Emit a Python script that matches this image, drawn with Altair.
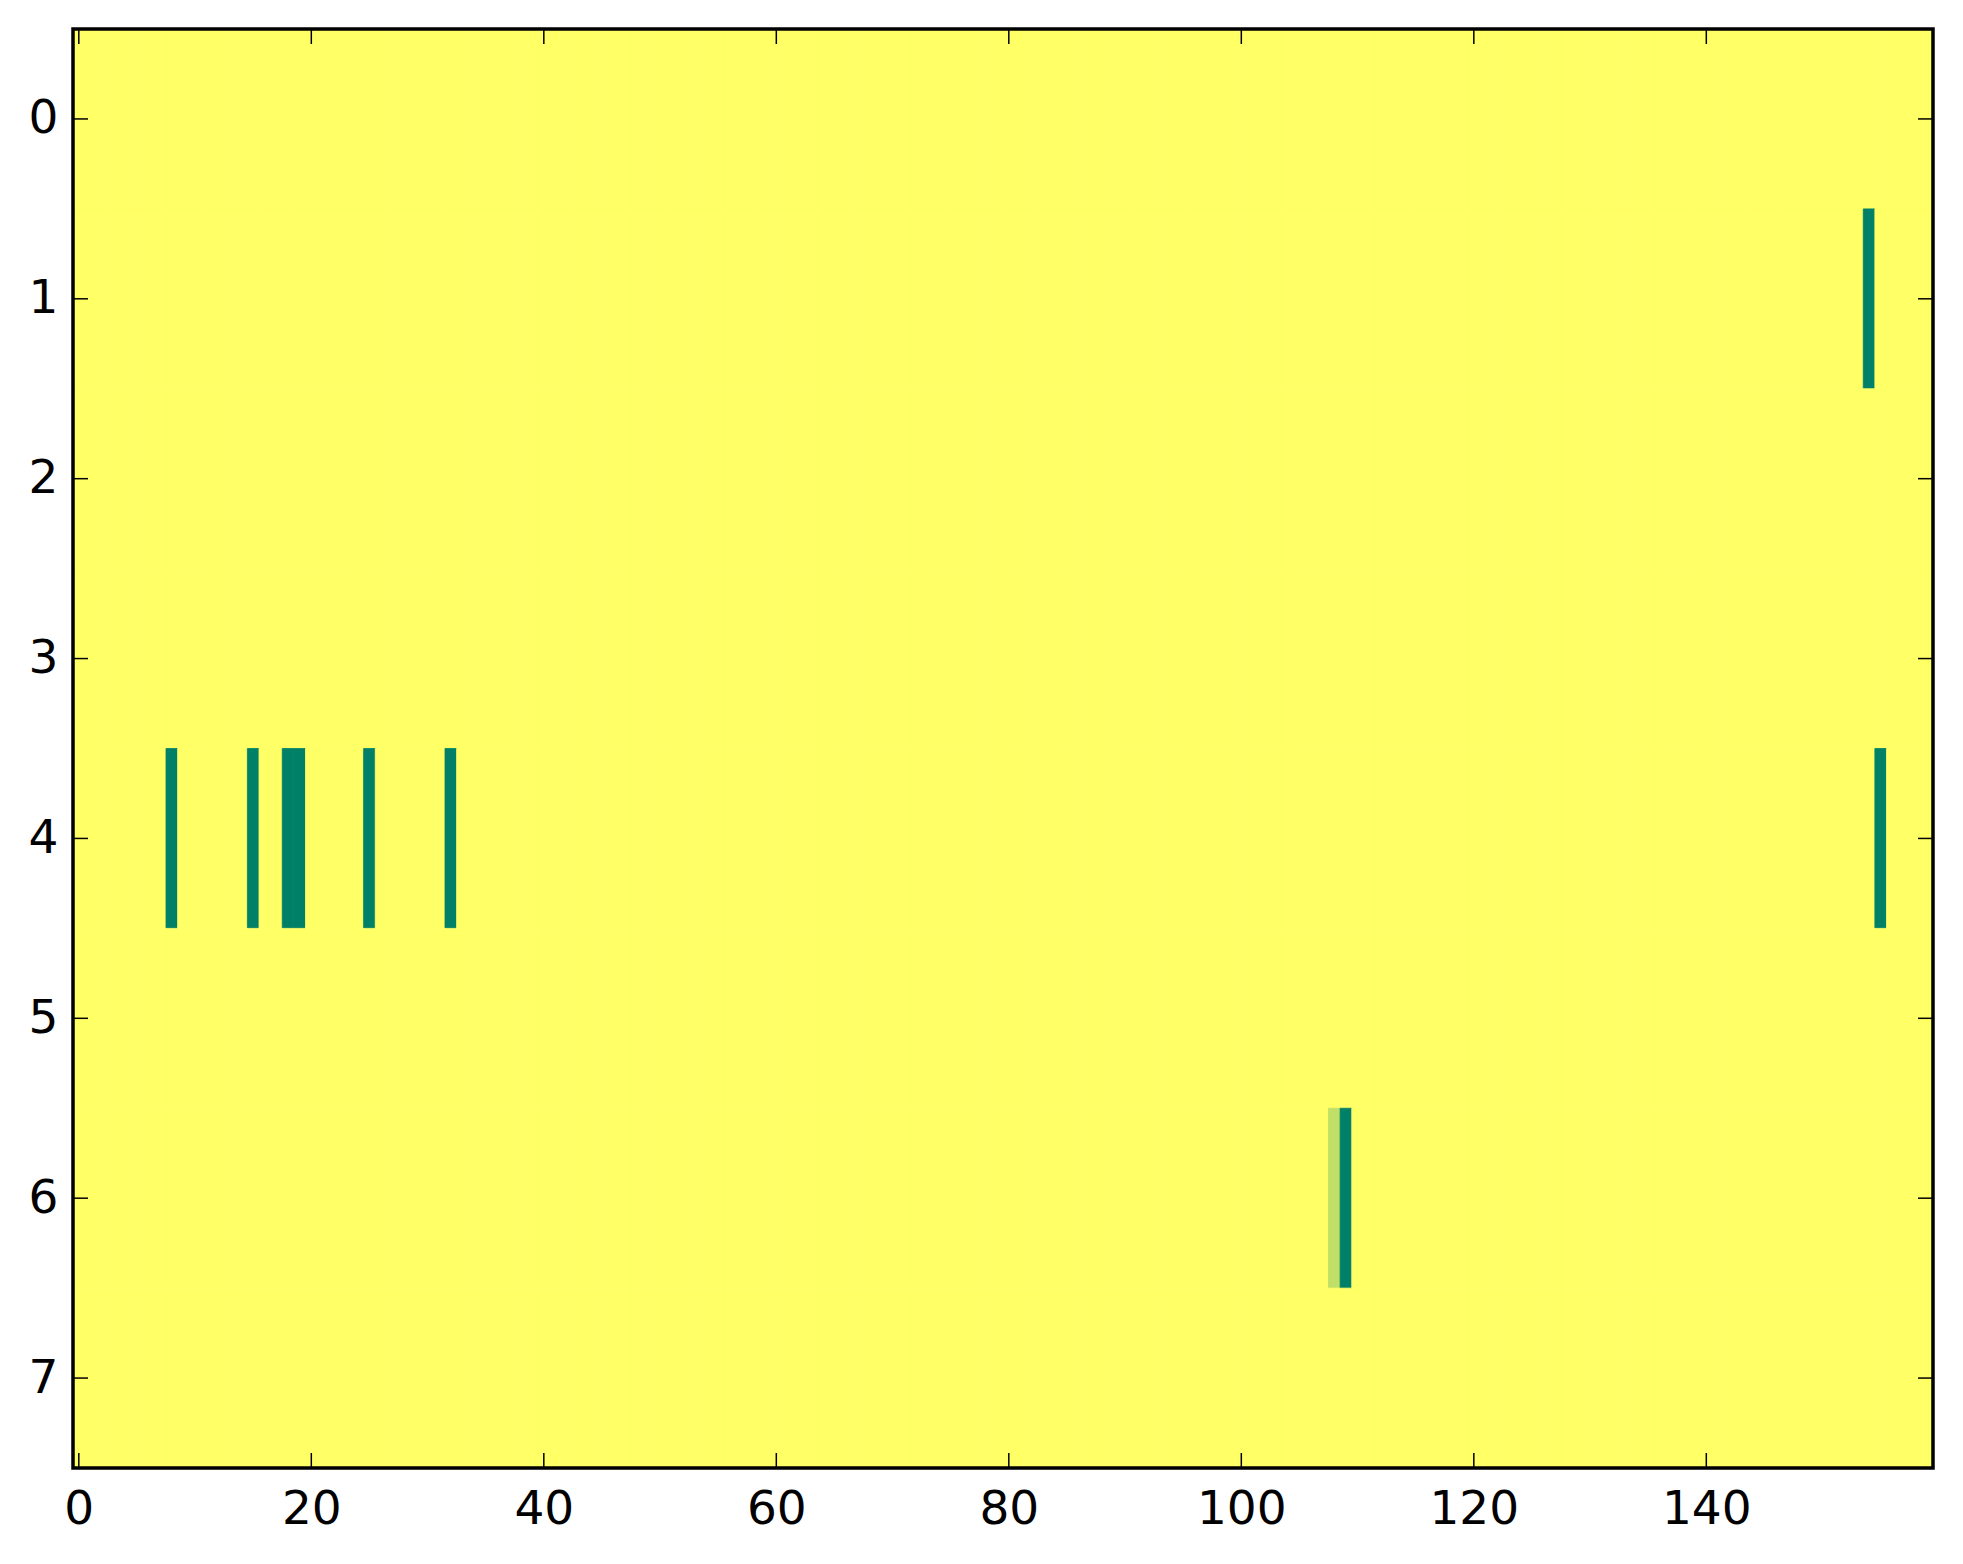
import altair as alt
import pandas as pd

# grid shape
n_rows = 8
n_cols = 160
background_value = 1.0

# cells differing from the background (row, column, value)
cell_rows = [1, 4, 4, 4, 4, 4, 4, 4, 6, 6]
cell_cols = [154, 8, 15, 18, 19, 25, 32, 155, 108, 109]
cell_vals = [0.0, 0.0, 0.0, 0.0, 0.0, 0.0, 0.0, 0.0, 0.75, 0.0]

x_ticks = [0, 20, 40, 60, 80, 100, 120, 140]
y_ticks = [0, 1, 2, 3, 4, 5, 6, 7]

special = {(r, c): v for r, c, v in zip(cell_rows, cell_cols, cell_vals)}
records = []
for r in range(n_rows):
    for c in range(n_cols):
        records.append({
            "r0": r - 0.5, "r1": r + 0.5,
            "c0": c - 0.5, "c1": c + 0.5,
            "v": special.get((r, c), background_value),
        })
grid = pd.DataFrame(records)

W, H = 1860, 1439
FONT = "DejaVu Sans"
FS = 47
TICK = 15

xscale = alt.Scale(domain=[-0.5, n_cols - 0.5], nice=False, zero=False)
yscale = alt.Scale(domain=[-0.5, n_rows - 0.5], nice=False, zero=False, reverse=True)
cscale = alt.Scale(domain=[0, 1], range=["#008066", "#ffff66"], interpolate="rgb")

xaxis = alt.Axis(values=x_ticks, title=None, ticks=False, domain=False, grid=False,
                 labelFont=FONT, labelFontSize=FS, labelColor="black", labelPadding=18,
                 labelFlush=False, labelOverlap=False, format="d")
yaxis = alt.Axis(values=y_ticks, title=None, ticks=False, domain=False, grid=False,
                 labelFont=FONT, labelFontSize=FS, labelColor="black", labelPadding=15,
                 labelOverlap=False, format="d")

heat = alt.Chart(grid).mark_rect(strokeWidth=0.8).encode(
    x=alt.X("c0:Q", scale=xscale, axis=xaxis),
    x2="c1:Q",
    y=alt.Y("r0:Q", scale=yscale, axis=yaxis),
    y2="r1:Q",
    color=alt.Color("v:Q", scale=cscale, legend=None),
    stroke=alt.Stroke("v:Q", scale=cscale, legend=None),
)

xt = pd.DataFrame({"t": x_ticks})
yt = pd.DataFrame({"t": y_ticks})
rule_style = dict(color="black", strokeWidth=1.5)

xb = alt.Chart(xt).mark_rule(**rule_style).encode(
    x=alt.X("t:Q", scale=xscale, axis=xaxis), y=alt.value(H), y2=alt.value(H - TICK))
xtp = alt.Chart(xt).mark_rule(**rule_style).encode(
    x=alt.X("t:Q", scale=xscale, axis=xaxis), y=alt.value(0), y2=alt.value(TICK))
yl = alt.Chart(yt).mark_rule(**rule_style).encode(
    y=alt.Y("t:Q", scale=yscale, axis=yaxis), x=alt.value(0), x2=alt.value(TICK))
yr = alt.Chart(yt).mark_rule(**rule_style).encode(
    y=alt.Y("t:Q", scale=yscale, axis=yaxis), x=alt.value(W), x2=alt.value(W - TICK))

frame = alt.Chart(pd.DataFrame({"a": [0]})).mark_rect(
    filled=False, stroke="black", strokeWidth=3.5, fill=None
).encode(x=alt.value(0), x2=alt.value(W), y=alt.value(0), y2=alt.value(H))

chart = alt.layer(heat, xb, xtp, yl, yr, frame).properties(
    width=W, height=H,
    autosize=alt.AutoSizeParams(type="none"),
    padding={"left": 65, "top": 21, "right": 10, "bottom": 70},
).configure_view(stroke=None).configure(background="white")

chart.save("out.html", embed_options={"renderer": "svg", "actions": False})
